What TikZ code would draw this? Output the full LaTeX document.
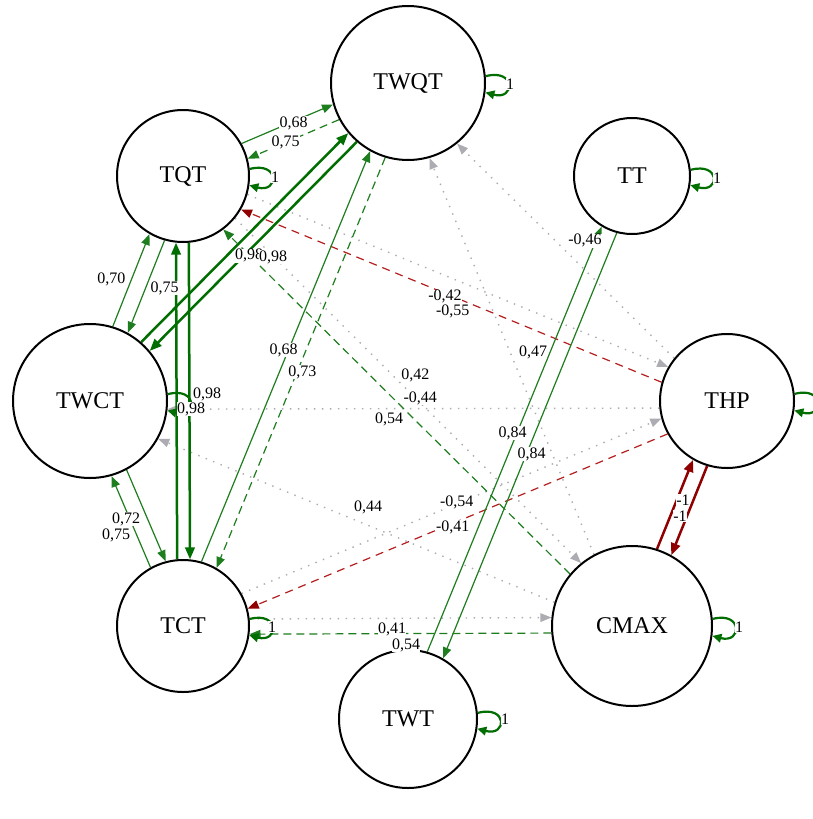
\documentclass[tikz,border=0pt]{standalone}
\usepackage{fontspec}
\setmainfont{Liberation Serif}
\usetikzlibrary{arrows.meta}
\pgfdeclarelayer{back}
\pgfdeclarelayer{edges}
\pgfsetlayers{back,edges,main}
\definecolor{gthin}{RGB}{30,125,30}
\definecolor{gdark}{RGB}{0,110,0}
\definecolor{rdsh}{RGB}{180,30,30}
\definecolor{rdk}{RGB}{145,0,0}
\definecolor{wk}{RGB}{172,172,178}
\tikzset{
 nd/.style={circle, draw=black, line width=2pt, fill=white, minimum size=#1, inner sep=0pt, font=\fontsize{24}{24}\selectfont},
 lab/.style={fill=white, inner sep=0.3pt, font=\fontsize{16}{16}\selectfont},
 tipA/.style={-{Triangle[length=11pt,width=8.5pt]}},
 gS/.style={draw=gthin, line width=1.2pt, tipA},
 gD/.style={gS, dash pattern=on 8pt off 5pt},
 gT/.style={draw=gdark, line width=2.5pt, -{Triangle[length=12pt,width=9.5pt]}},
 rD/.style={draw=rdsh, line width=1.2pt, dash pattern=on 8pt off 6pt, -{Triangle[length=11pt,width=8.5pt,color=rdk]}},
 rT/.style={draw=rdk, line width=2.5pt, -{Triangle[length=12pt,width=9.5pt]}},
 wD/.style={draw=wk, line width=1.4pt, dash pattern=on 1.4pt off 6.6pt, tipA},
 lp/.style={draw=gdark, line width=2.2pt, -{Triangle[length=9pt,width=8.5pt]}},
}
\begin{document}
\begin{tikzpicture}[x=1pt,y=-1pt]
\useasboundingbox (0,0) rectangle (812,819);
\begin{pgfonlayer}{back}
\fill[white] (0,0) rectangle (812,819);
\end{pgfonlayer}
% nodes
\node[nd=154pt] (TWQT) at (408,83) {TWQT};
\node[nd=132pt] (TQT) at (183,176) {TQT};
\node[nd=116pt] (TT) at (632,176) {TT};
\node[nd=154pt] (TWCT) at (90,401) {TWCT};
\node[nd=134pt] (THP) at (727,401) {THP};
\node[nd=132pt] (TCT) at (183,626) {TCT};
\node[nd=160pt] (CMAX) at (632,626) {CMAX};
\node[nd=138pt] (TWT) at (408,719) {TWT};
\begin{pgfonlayer}{edges}
% weak (gray dotted)
\draw[wD] (TQT.344.5) -- (THP.150.68);
\draw[wD] (TQT.321.9) -- (CMAX.129.2);
\draw[wD] (THP.186.86) -- (TWCT.354.04);
\draw[wD] (TCT.29.42) -- (THP.195.6);
\draw[wD] (CMAX.163.2) -- (TWCT.331.5);
\draw[wD] (TCT.6.96) -- (CMAX.174.26);
\draw[wD] (THP.141.95) -- (TWQT.309.13);
\draw[wD] (CMAX.118.16) -- (TWQT.286.46);
% negative dashed
\draw[rD] (THP.164.4) -- (TQT.330.58);
\draw[rD] (THP.209.32) -- (TCT.15.5);
% positive
\draw[gS] (TQT.29.42) -- (TWQT.196.5);
\draw[gD] (TWQT.208.42) -- (TQT.15.5);
\draw[gT] (TWCT.49.84) -- (TWQT.220.16);
\draw[gT] (TWQT.229.84) -- (TWCT.40.16);
\draw[gS] (TWCT.73.5) -- (TQT.240.58);
\draw[gS] (TQT.254.5) -- (TWCT.61.58);
\draw[gT] (TCT.95.65) -- (TQT.264.35);
\draw[gT] (TQT.275.65) -- (TCT.84.35);
\draw[gS] (TCT.119.42) -- (TWCT.286.5);
\draw[gS] (TWCT.298.42) -- (TCT.105.5);
\draw[gS] (TCT.74.46) -- (TWQT.241.54);
\draw[gD] (TWQT.253.46) -- (TCT.60.54);
\draw[gD] (CMAX.140.68) -- (TQT.307.98);
\draw[gD] (CMAX.185.74) -- (TCT.353.04);
\draw[gS] (TWT.74.24) -- (TT.239.65);
\draw[gS] (TT.255.51) -- (TWT.60.92);
% strong negative
\draw[rT] (CMAX.72.85) -- (THP.240.25);
\draw[rT] (THP.253.97) -- (CMAX.61.37);
% loops
\draw[lp] (TWQT.5) .. controls +(30,-8) and +(30,8) .. (TWQT.353);
\draw[lp] (TQT.6) .. controls +(30,-8) and +(30,8) .. (TQT.352);
\draw[lp] (TT.6) .. controls +(30,-8) and +(30,8) .. (TT.351);
\draw[lp] (TWCT.5) .. controls +(30,-8) and +(30,8) .. (TWCT.353);
\draw[lp] (THP.6) .. controls +(30,-8) and +(30,8) .. (THP.352);
\draw[lp] (TCT.6) .. controls +(30,-8) and +(30,8) .. (TCT.352);
\draw[lp] (CMAX.5) .. controls +(30,-8) and +(30,8) .. (CMAX.353);
\draw[lp] (TWT.5) .. controls +(30,-8) and +(30,8) .. (TWT.352);
\end{pgfonlayer}
% edge labels
\node[lab] (l1) at (293.7,123.3) {0,68};
\node[lab] (l2) at (285.7,142.3) {0,75};
\node[lab] (l3) at (249,255.7) {0,98};
\node[lab] (l4) at (273,257) {0,98};
\node[lab] (l5) at (111.3,279) {0,70};
\node[lab] (l6) at (164.7,288.3) {0,75};
\node[lab] (l7) at (207,394) {0,98};
\node[lab] (l8) at (191,409) {0,98};
\node[lab] (l9) at (126,519) {0,72};
\node[lab] (l10) at (116,535.7) {0,75};
\node[lab] (l11) at (283.7,350) {0,68};
\node[lab] (l12) at (302.3,372) {0,73};
\node[lab] (l13) at (445,296.7) {-0,42};
\node[lab] (l14) at (452.7,311.7) {-0,55};
\node[lab] (l15) at (415.3,375) {0,42};
\node[lab] (l16) at (420.3,398) {-0,44};
\node[lab] (l17) at (389,419) {0,54};
\node[lab] (l18) at (456.7,502.3) {-0,54};
\node[lab] (l19) at (452.7,527.3) {-0,41};
\node[lab] (l20) at (368,507.3) {0,44};
\node[lab] (l21) at (392,629) {0,41};
\node[lab] (l22) at (406,645.5) {0,54};
\node[lab] (l23) at (512.7,433) {0,84};
\node[lab] (l24) at (531.7,454.3) {0,84};
\node[lab] (l25) at (683,500) {-1};
\node[lab] (l26) at (680,516) {-1};
\node[lab] (l27) at (585,240.7) {-0,46};
\node[lab] (l28) at (533,352) {0,47};
% loop labels
\node[lab] (s1) at (510,84) {1};
\node[lab] (s2) at (275,177) {1};
\node[lab] (s3) at (717,178) {1};
\node[lab] (s4) at (272,627) {1};
\node[lab] (s5) at (739,627) {1};
\node[lab] (s6) at (505,719) {1};
\end{tikzpicture}
\end{document}
